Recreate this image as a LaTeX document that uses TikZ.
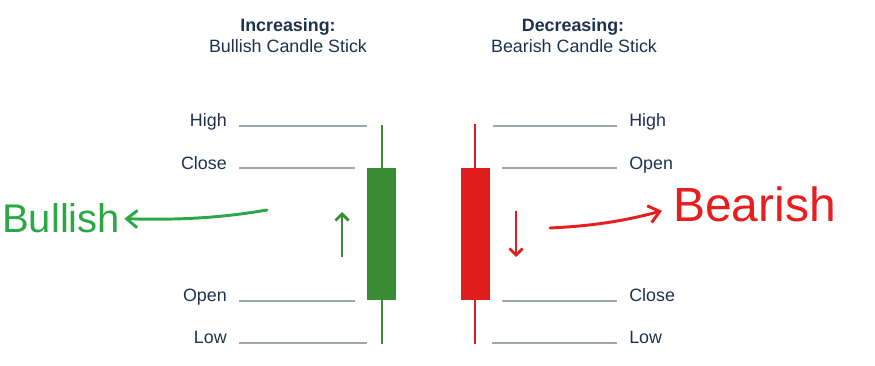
\documentclass[tikz,border=0pt]{standalone}
\usepackage{fontspec}
\setmainfont{Liberation Sans}
\usetikzlibrary{arrows.meta}
\definecolor{navy}{HTML}{1E3250}
\definecolor{levelgray}{HTML}{9EA6AE}
\definecolor{bullgreen}{HTML}{3A8C35}
\definecolor{bearred}{HTML}{E01E1E}
\definecolor{pengreen}{HTML}{2BA845}
\definecolor{penred}{HTML}{E81E1E}

\begin{document}
\begin{tikzpicture}[x=0.75pt, y=-0.75pt,
    lbl/.style={inner sep=0pt, text=navy, font=\fontsize{13.4}{16}\selectfont},
    level/.style={draw=levelgray, line width=1.1pt},
    wick/.style={line width=1.3pt},
    hint/.style={line width=2.2pt, -{Straight Barb[length=5pt, width=10pt, line width=2pt]}},
    pen/.style={line width=2.2pt, line cap=round, -{Straight Barb[length=8pt, width=13pt, line width=2.2pt]}}]
    \useasboundingbox (0,0) rectangle (875,366);

    % Titles
    \node[lbl, anchor=base, font=\fontsize{13.4}{16}\selectfont\bfseries] (incT) at (288,32) {Increasing:};
    \node[lbl, anchor=base] (bullT) at (288,53) {Bullish Candle Stick};
    \node[lbl, anchor=base, font=\fontsize{13.4}{16}\selectfont\bfseries] (decT) at (573,32) {Decreasing:};
    \node[lbl, anchor=base] (bearT) at (574,53) {Bearish Candle Stick};

    % Left levels
    \node[lbl, anchor=base east] (hiL) at (227,127) {High};
    \node[lbl, anchor=base east] (clL) at (227,170) {Close};
    \node[lbl, anchor=base east] (opL) at (227,302) {Open};
    \node[lbl, anchor=base east] (loL) at (227,344) {Low};
    \draw[level] (239,126) -- (367,126);
    \draw[level] (239,168) -- (355,168);
    \draw[level] (239,301) -- (355,301);
    \draw[level] (239,343) -- (367,343);

    % Right levels
    \node[lbl, anchor=base west] (hiR) at (629,127) {High};
    \node[lbl, anchor=base west] (opR) at (629,170) {Open};
    \node[lbl, anchor=base west] (clR) at (629,302) {Close};
    \node[lbl, anchor=base west] (loR) at (629,344) {Low};
    \draw[level] (493,126) -- (617,126);
    \draw[level] (502,168) -- (617,168);
    \draw[level] (502,301) -- (617,301);
    \draw[level] (492,343) -- (617,343);

    % Bullish candle
    \draw[wick, bullgreen] (382,125) -- (382,344);
    \fill[bullgreen] (367,168) rectangle (396,300);
    \draw[hint, bullgreen] (342,257) -- (342,212);

    % Bearish candle
    \draw[wick, bearred] (475,124) -- (475,344);
    \fill[bearred] (461,168) rectangle (490,300);
    \draw[hint, bearred] (516,211) -- (516,257);

    % Handwritten notes
    \node[inner sep=0pt, anchor=base west, text=pengreen, font=\fontsize{30}{32}\selectfont] (Bullish) at (2,233) {Bullish};
    \coordinate (bullTail) at (267,210);
    \draw[pen, pengreen] (bullTail) .. controls (215,219) and (170,220) .. ([xshift=3pt]Bullish.east);

    \node[inner sep=0pt, anchor=base west, text=penred, font=\fontsize{36}{38}\selectfont] (Bearish) at (673,222) {Bearish};
    \coordinate (bearTail) at (550,228);
    \draw[pen, penred] (bearTail) .. controls (590,226) and (620,222) .. ([shift={(-11,6)}]Bearish.west);
\end{tikzpicture}
\end{document}
